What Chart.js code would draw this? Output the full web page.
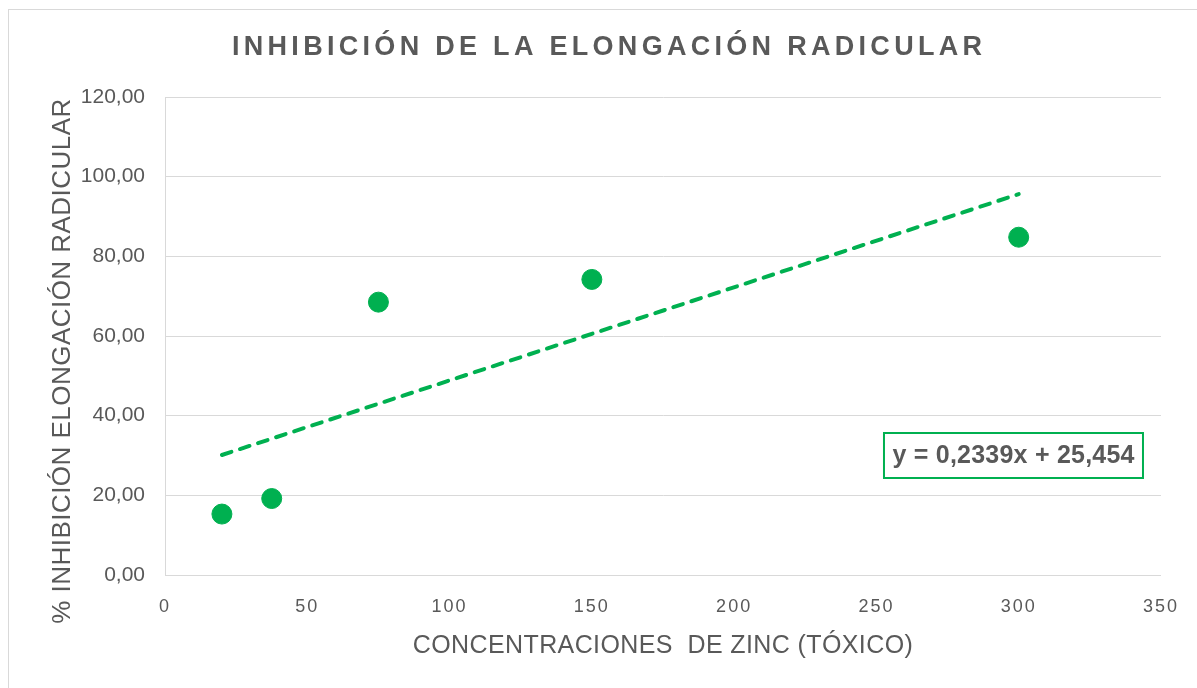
<!DOCTYPE html>
<html>
<head>
<meta charset="utf-8">
<script src="https://cdn.jsdelivr.net/npm/chart.js@4.4.1/dist/chart.umd.min.js"></script>
<style>
  html, body { margin: 0; padding: 0; background: #fff; overflow: hidden; }
  #wrap { position: relative; width: 1197px; height: 688px; }
  #frame { position: absolute; left: 8px; top: 9px; width: 1300px; height: 800px; border: 1px solid #d9d9d9; box-sizing: border-box; pointer-events: none; }
  canvas { position: absolute; left: 0; top: 0; }
</style>
</head>
<body>
<div id="wrap">
  <div id="frame"></div>
  <canvas id="c" width="1197" height="688"></canvas>
</div>
<script>
const TITLE = 'INHIBICIÓN DE LA ELONGACIÓN RADICULAR';
const X_TITLE = 'CONCENTRACIONES  DE ZINC (TÓXICO)';
const Y_TITLE = '% INHIBICIÓN ELONGACIÓN RADICULAR';
const EQUATION = 'y = 0,2339x + 25,454';

const concentrations = [20, 37.5, 75, 150, 300];
const inhibition = [15.3, 19.2, 68.5, 74.2, 84.8];

const trendX = [20, 300];
const trendY = [30.13, 95.62];

const xTicks = [0, 50, 100, 150, 200, 250, 300, 350];
const yTicks = [0, 20, 40, 60, 80, 100, 120];

const GREEN = '#00B050';
const TEXT = '#595959';
const GRID = '#d9d9d9';
const FONT = '"Liberation Sans", Arial, sans-serif';

function spacingFor(ctx, text, target) {
  ctx.letterSpacing = '0px';
  const w = ctx.measureText(text).width;
  return Math.max(0, (target - w) / (text.length - 1));
}

const titlePlugin = {
  id: 'spacedTitle',
  afterDraw(chart) {
    const ctx = chart.ctx;
    ctx.save();
    ctx.font = 'bold 27px ' + FONT;
    ctx.fillStyle = TEXT;
    ctx.textBaseline = 'middle';
    ctx.textAlign = 'left';
    const targetW = 750;
    const sp = spacingFor(ctx, TITLE, targetW);
    ctx.letterSpacing = sp + 'px';
    ctx.fillText(TITLE, 607 - targetW / 2, 48);
    ctx.restore();
  }
};

const eqPlugin = {
  id: 'equationBox',
  afterDraw(chart) {
    const ctx = chart.ctx;
    const a = chart.chartArea;
    const left = a.right - 277, top = a.top + 336, w = 259, h = 45;
    ctx.save();
    ctx.strokeStyle = GREEN;
    ctx.lineWidth = 2;
    ctx.fillStyle = '#fff';
    ctx.fillRect(left, top, w, h);
    ctx.strokeRect(left, top, w, h);
    ctx.font = 'bold 25px ' + FONT;
    ctx.fillStyle = TEXT;
    ctx.textAlign = 'left';
    ctx.textBaseline = 'middle';
    const target = 242;
    const sp = spacingFor(ctx, EQUATION, target);
    ctx.letterSpacing = '0px';
    const w2 = ctx.measureText(EQUATION).width;
    ctx.letterSpacing = sp + 'px';
    ctx.fillText(EQUATION, left + (w - Math.max(w2, target)) / 2, top + h / 2 + 1);
    ctx.restore();
  }
};

// letter spacing / offsets for axis texts, applied around the scales' own drawing
const spacingPlugin = {
  id: 'axisSpacing',
  beforeDraw(chart) {
    const xs = chart.scales.x, ys = chart.scales.y;
    if (!xs._spPatched) {
      const dl = xs.drawLabels, dt = xs.drawTitle;
      xs.drawLabels = function (a) { const c = this.ctx; c.save(); c.letterSpacing = '2px'; dl.call(this, a); c.restore(); };
      xs.drawTitle = function () {
        const c = this.ctx; c.save();
        c.font = '25px ' + FONT;
        const sp = spacingFor(c, X_TITLE, 500);
        c.letterSpacing = sp + 'px'; dt.call(this); c.restore();
      };
      xs._spPatched = true;
    }
    if (!ys._spPatched) {
      const dt = ys.drawTitle;
      ys.drawTitle = function () {
        const c = this.ctx; c.save();
        c.font = '26px ' + FONT;
        const sp = spacingFor(c, Y_TITLE, 525);
        c.letterSpacing = sp + 'px';
        c.translate(0, 25);
        dt.call(this); c.restore();
      };
      ys._spPatched = true;
    }
  }
};

new Chart(document.getElementById('c'), {
  type: 'scatter',
  data: {
    datasets: [
      {
        type: 'line',
        data: trendX.map((x, i) => ({x, y: trendY[i]})),
        borderColor: GREEN,
        borderWidth: 4,
        borderDash: [10, 9],
        borderCapStyle: 'round',
        pointRadius: 0,
        fill: false,
        order: 2
      },
      {
        data: concentrations.map((x, i) => ({x, y: inhibition[i]})),
        backgroundColor: GREEN,
        borderColor: GREEN,
        pointRadius: 10,
        pointHoverRadius: 10,
        order: 1
      }
    ]
  },
  options: {
    responsive: false,
    animation: false,
    layout: { padding: { left: 0, right: 31, top: 97, bottom: 0 } },
    plugins: { legend: { display: false }, title: { display: false }, tooltip: { enabled: false } },
    scales: {
      x: {
        type: 'linear',
        min: 0, max: 350,
        afterBuildTicks(s) { s.ticks = xTicks.map(v => ({value: v})); },
        grid: { display: false, drawTicks: false },
        border: { display: true, color: GRID, width: 1 },
        ticks: { color: TEXT, padding: 21, font: { family: FONT, size: 18 }, maxRotation: 0 },
        title: { display: true, text: X_TITLE, color: TEXT, font: { family: FONT, size: 25 }, padding: { top: 0, bottom: 27 } },
        afterFit(s) { s.height = 113; }
      },
      y: {
        type: 'linear',
        min: 0, max: 120,
        afterBuildTicks(s) { s.ticks = yTicks.map(v => ({value: v})); },
        grid: { color: GRID, lineWidth: 1, drawTicks: false },
        border: { display: true, color: GRID, width: 1 },
        ticks: { color: TEXT, padding: 20, font: { family: FONT, size: 21 },
                 callback: v => Number(v).toFixed(2).replace('.', ',') },
        title: { display: true, text: Y_TITLE, color: TEXT, font: { family: FONT, size: 26 }, padding: { top: 47, bottom: 0 } },
        afterFit(s) { s.width = 165; }
      }
    }
  },
  plugins: [spacingPlugin, titlePlugin, eqPlugin]
});
</script>
</body>
</html>
